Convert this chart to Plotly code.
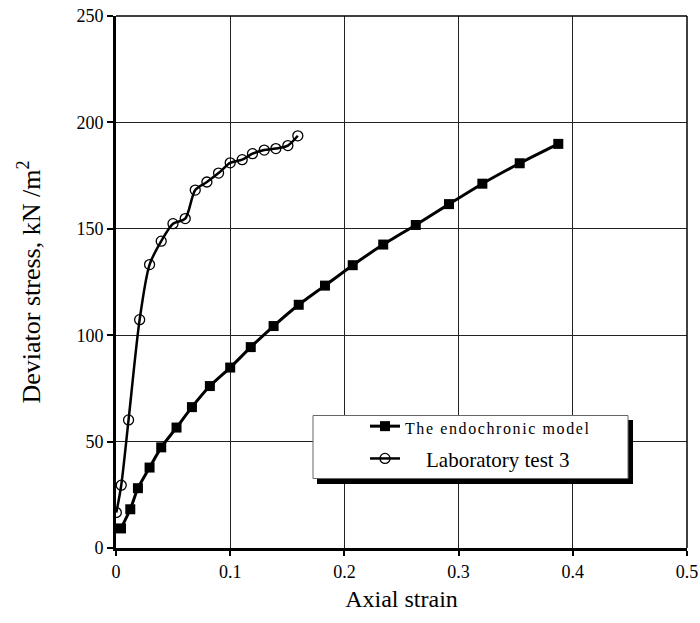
import plotly.graph_objects as go

# Endochronic model (filled squares)
model_strain = [0.0044, 0.0125, 0.0192, 0.0294, 0.0396, 0.053, 0.0665, 0.0822, 0.100, 0.118,
                0.138, 0.160, 0.183, 0.2073, 0.234, 0.2625, 0.2916, 0.3208, 0.3535, 0.3873]
model_stress = [9.2, 18.2, 28.1, 37.8, 47.3, 56.6, 66.2, 76.1, 84.8, 94.4,
                104.3, 114.3, 123.3, 132.9, 142.6, 151.8, 161.6, 171.2, 180.8, 189.9]

# Laboratory test 3 (open circles)
lab_strain = [0.0003, 0.0046, 0.011, 0.0207, 0.0294, 0.0396, 0.0499, 0.0606, 0.0694, 0.0796,
              0.0898, 0.100, 0.1105, 0.1195, 0.1298, 0.140, 0.1505, 0.1592]
lab_stress = [16.7, 29.5, 60.2, 107.3, 133.2, 144.2, 152.4, 154.8, 168.2, 172.0,
              176.2, 181.0, 182.5, 185.3, 187.0, 187.7, 189.1, 193.7]

x_ticks = [0, 0.1, 0.2, 0.3, 0.4, 0.5]
x_tick_labels = ["0", "0.1", "0.2", "0.3", "0.4", "0.5"]
y_ticks = [0, 50, 100, 150, 200, 250]

FONT = "Liberation Serif, Times New Roman, serif"
W, H = 700, 623
L, R, T, B = 116, 13, 16, 75
pw, ph = W - L - R, H - T - B

def px(xp):
    return (xp - L) / pw

def py(yp):
    return (H - B - yp) / ph

fig = go.Figure()
fig.add_trace(go.Scatter(
    x=model_strain, y=model_stress, mode="lines+markers",
    name="<span style='font-size:16px;letter-spacing:1.6px'>The endochronic model</span>",
    line=dict(color="black", width=3, shape="spline", smoothing=0.6),
    marker=dict(symbol="square", size=10, color="black"),
    legendgroup="a",
))
fig.add_trace(go.Scatter(
    x=lab_strain, y=lab_stress, mode="lines+markers",
    name="    Laboratory test 3",
    line=dict(color="black", width=2.5, shape="spline", smoothing=0.8),
    marker=dict(symbol="circle-open", size=10, color="black", line=dict(width=1.3)),
    legendgroup="b",
))

shapes = [
    # top and right thin borders
    dict(type="line", xref="paper", yref="paper", x0=0, x1=1, y0=1, y1=1,
         line=dict(color="black", width=1.5)),
    dict(type="line", xref="paper", yref="paper", x0=1, x1=1, y0=0, y1=1,
         line=dict(color="black", width=1.5)),
    # legend shadow and box
    dict(type="rect", xref="paper", yref="paper", x0=px(317), x1=px(633), y0=py(484), y1=py(420),
         fillcolor="black", line=dict(width=0), layer="above"),
    dict(type="rect", xref="paper", yref="paper", x0=px(313), x1=px(628), y0=py(478.5), y1=py(415.5),
         fillcolor="white", line=dict(color="#666", width=1), layer="above"),
]

fig.update_layout(
    width=W, height=H,
    margin=dict(l=L, r=R, t=T, b=B, autoexpand=False),
    paper_bgcolor="white", plot_bgcolor="white",
    font=dict(family=FONT, color="black", size=18),
    showlegend=True,
    legend=dict(
        x=px(365), y=py(406), xanchor="left", yanchor="top",
        bgcolor="rgba(0,0,0,0)", borderwidth=0,
        font=dict(family=FONT, size=21, color="black"),
        tracegroupgap=2,
    ),
    shapes=shapes,
    xaxis=dict(
        range=[0, 0.5], tickvals=x_ticks, ticktext=x_tick_labels,
        showgrid=True, gridcolor="#222", gridwidth=1,
        showline=True, linecolor="black", linewidth=3,
        ticks="outside", ticklen=5, tickwidth=2, tickcolor="black",
        tickfont=dict(family=FONT, size=18),
        title=dict(text="Axial strain", font=dict(family=FONT, size=24), standoff=10),
        zeroline=False, automargin=False,
    ),
    yaxis=dict(
        range=[0, 250], tickvals=y_ticks,
        showgrid=True, gridcolor="#222", gridwidth=1,
        showline=True, linecolor="black", linewidth=3,
        ticks="outside", ticklen=6, tickwidth=2, tickcolor="black",
        tickfont=dict(family=FONT, size=18),
        title=dict(text="Deviator stress, kN /m<sup>2</sup>", font=dict(family=FONT, size=26), standoff=29),
        zeroline=False, automargin=False,
    ),
)

fig.write_html("out.html")
